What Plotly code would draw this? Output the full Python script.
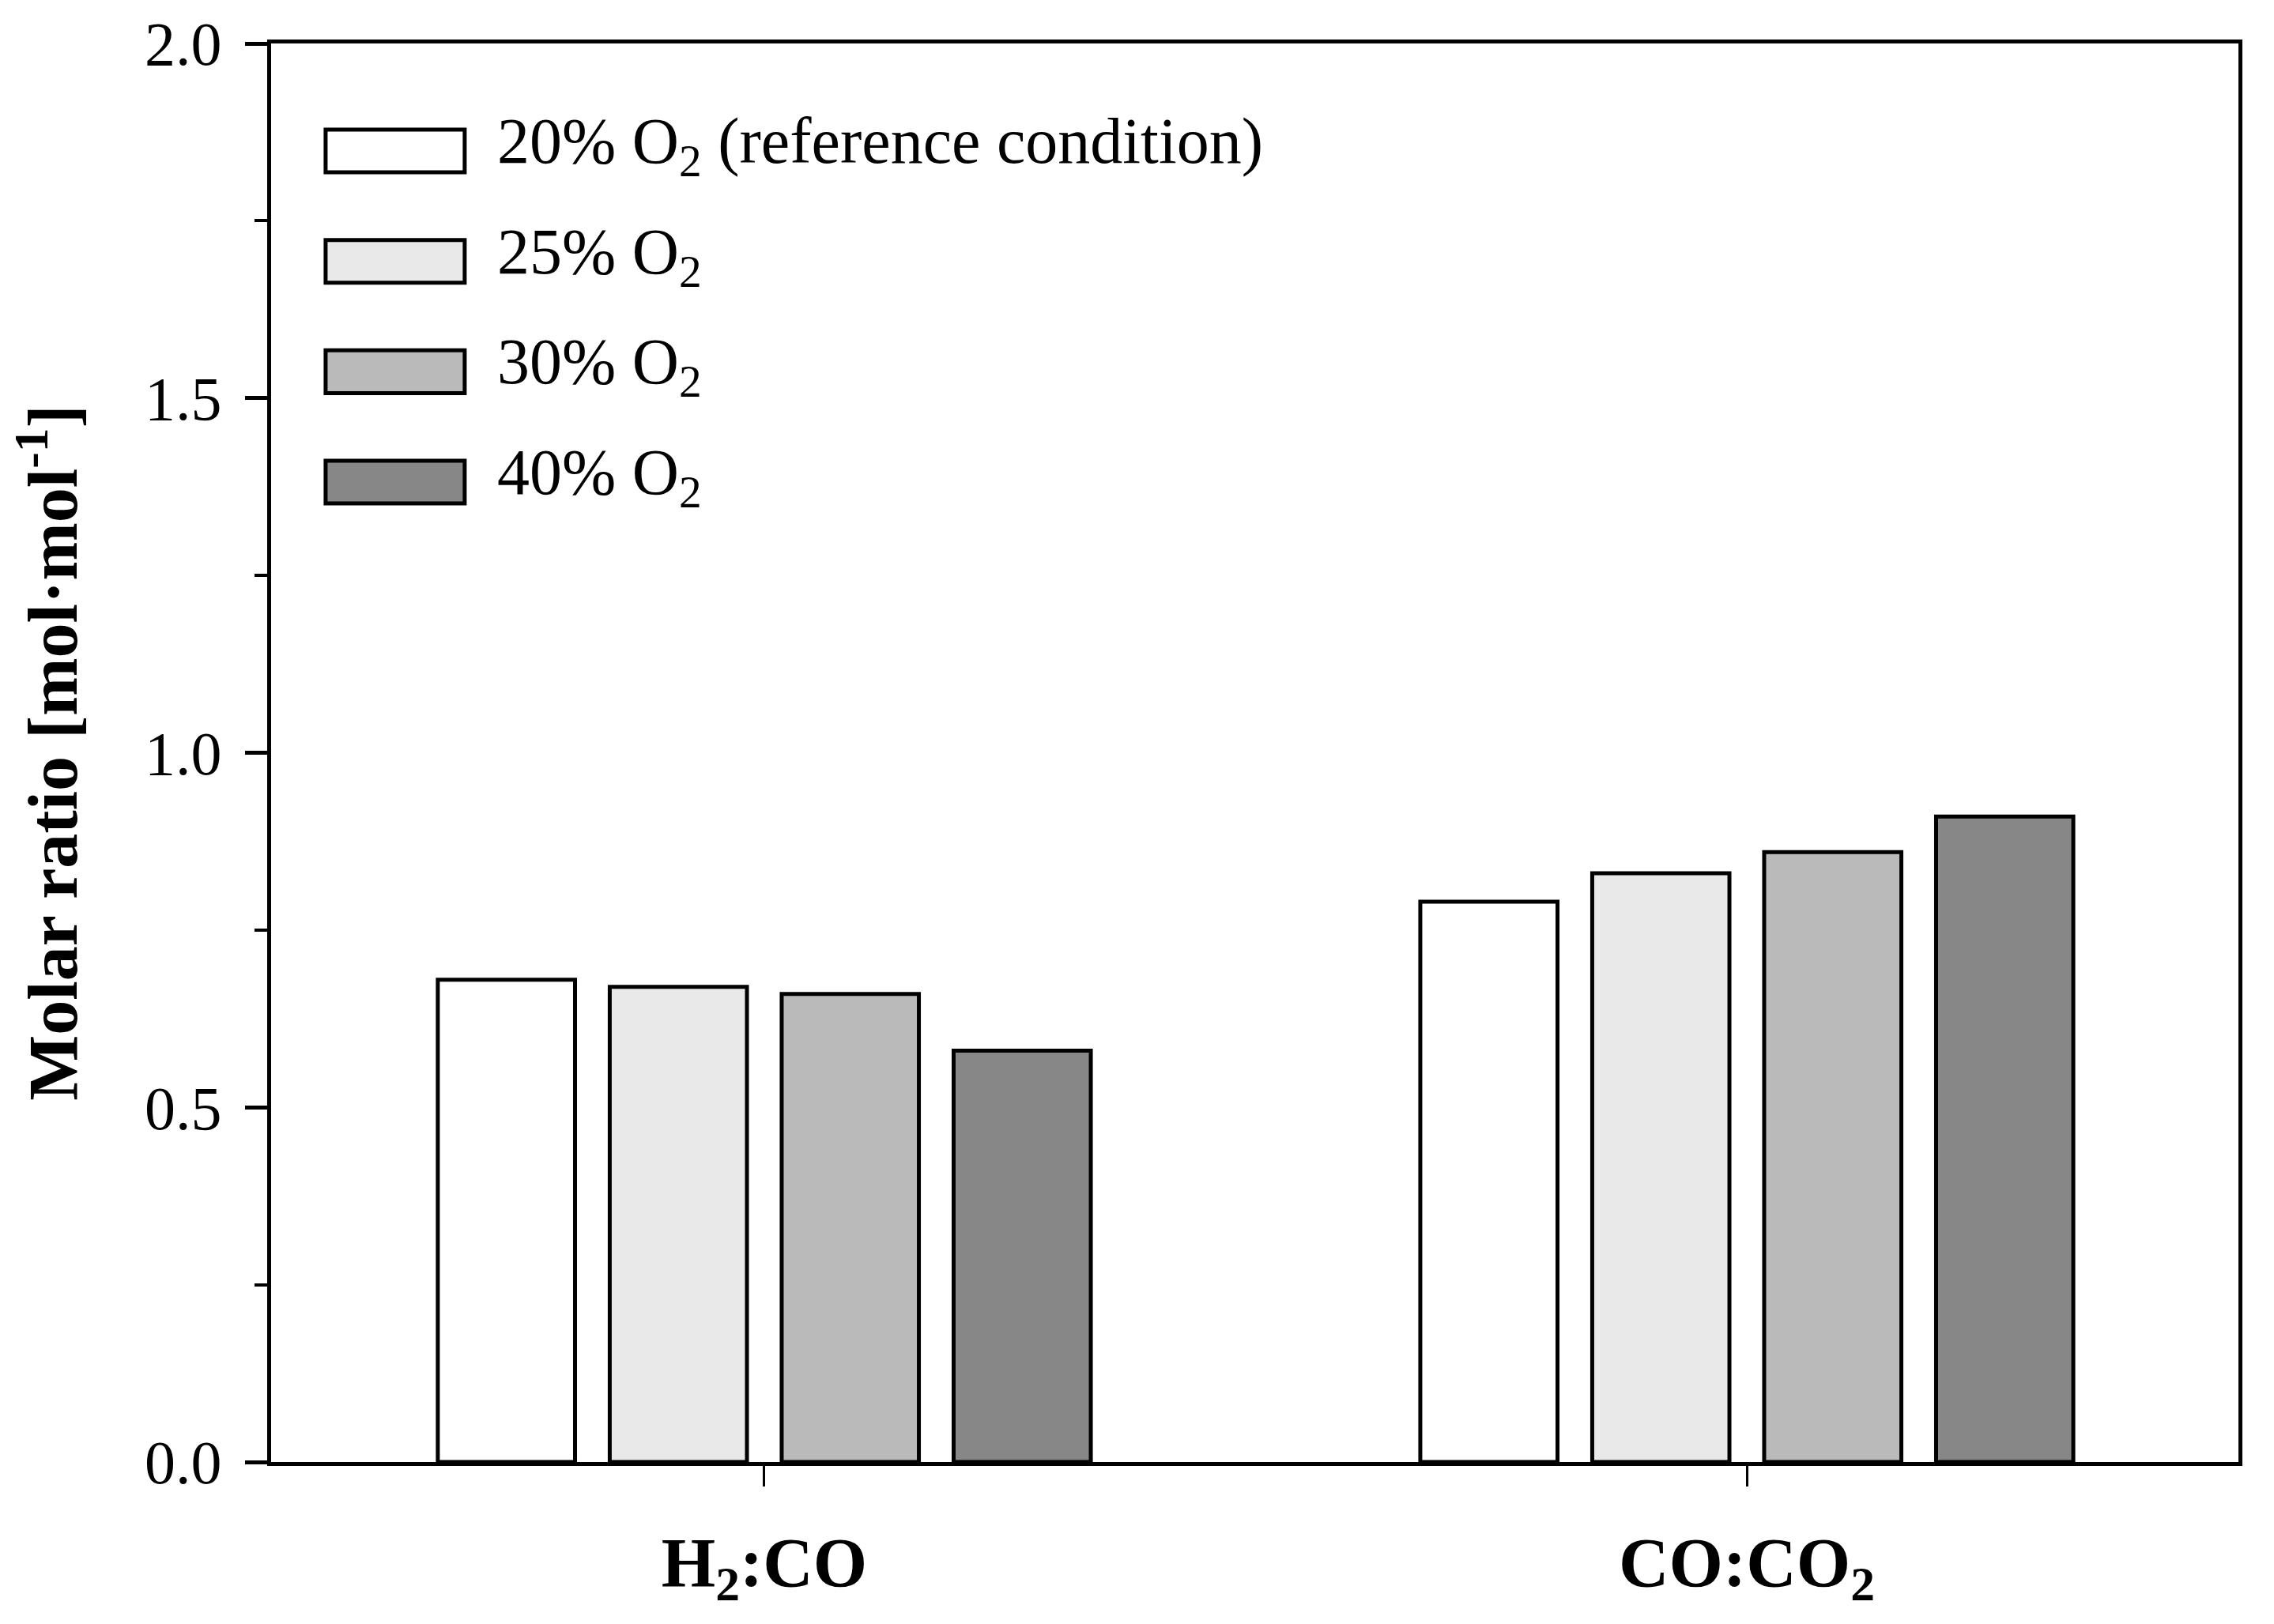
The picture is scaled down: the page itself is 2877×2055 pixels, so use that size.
import plotly.graph_objects as go

categories = ["<b>H<sub>2</sub>:CO</b>", "<b>CO:CO<sub>2</sub></b>"]
series_names = [
    "20% O<sub>2</sub> (reference condition)",
    "25% O<sub>2</sub>",
    "30% O<sub>2</sub>",
    "40% O<sub>2</sub>",
]
series_values = [
    [0.68, 0.79],
    [0.67, 0.83],
    [0.66, 0.86],
    [0.58, 0.91],
]
series_colors = ["#FFFFFF", "#E9E9E9", "#BABABA", "#878787"]
y_ticks = [0.0, 0.5, 1.0, 1.5, 2.0]

FONT = "Liberation Serif"

fig = go.Figure()
for name, vals, col in zip(series_names, series_values, series_colors):
    fig.add_trace(go.Bar(
        x=categories, y=vals, name=name,
        marker=dict(color=col, line=dict(color="black", width=5)),
        showlegend=False,
    ))

# custom legend (large rectangular swatches)
box_x0, box_x1 = 0.0277, 0.0984
row_y0, row_step, box_h = 0.9242, 0.0778, 0.0301
for i, (name, col) in enumerate(zip(series_names, series_colors)):
    yc = row_y0 - i * row_step
    fig.add_shape(type="rect", xref="paper", yref="paper",
                  x0=box_x0, x1=box_x1, y0=yc - box_h / 2, y1=yc + box_h / 2,
                  fillcolor=col, line=dict(color="black", width=5))
    fig.add_annotation(xref="paper", yref="paper", x=0.1140, y=yc + 0.004,
                       text=name, showarrow=False, xanchor="left", yanchor="middle",
                       font=dict(family=FONT, size=82, color="black"))

fig.update_layout(
    width=2877, height=2055,
    margin=dict(l=343, r=45, t=55, b=205, autoexpand=False),
    plot_bgcolor="white", paper_bgcolor="white",
    barmode="group", bargap=0.30, bargroupgap=0.202,
    font=dict(family=FONT, color="black"),
)
fig.update_xaxes(
    type="category", range=[-0.502, 1.5004],
    showline=True, linecolor="black", linewidth=5, mirror=True,
    ticks="outside", ticklen=26, tickwidth=3, tickcolor="black",
    tickfont=dict(family=FONT, size=88, color="black"),
    ticklabelstandoff=20,
    showgrid=False, zeroline=False,
)
fig.update_yaxes(
    range=[0, 2], tickvals=y_ticks, tickformat=".1f",
    showline=True, linecolor="black", linewidth=5, mirror=True,
    ticks="outside", ticklen=28, tickwidth=5, tickcolor="black",
    minor=dict(dtick=0.25, ticks="outside", ticklen=16, tickwidth=4, tickcolor="black"),
    tickfont=dict(family=FONT, size=78, color="black"),
    ticklabelstandoff=14,
    title=dict(text="<b>Molar ratio [mol·mol<sup>-1</sup>]</b>",
               font=dict(family=FONT, size=88, color="black"), standoff=58),
    showgrid=False, zeroline=False,
)

fig.write_html("out.html", config={"displayModeBar": False},
               post_script="document.body.style.margin='0';")
